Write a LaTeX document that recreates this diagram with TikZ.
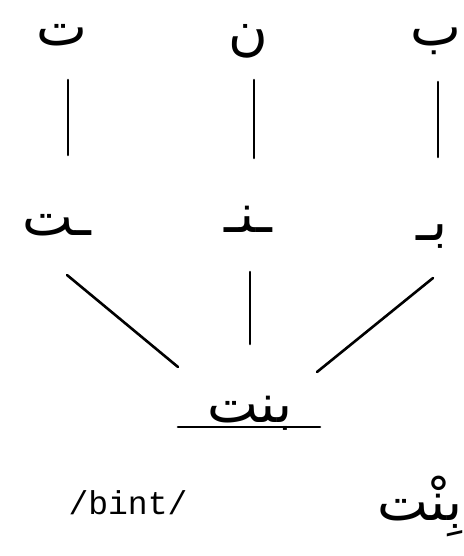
\documentclass[tikz,border=0pt]{standalone}
\usepackage{fontspec}
\setmonofont{Liberation Mono}
\newfontfamily\arabicfont[Script=Arabic]{DejaVu Sans}
\TeXXeTstate=1
\usetikzlibrary{calc}
\begin{document}
\begin{tikzpicture}[x=1pt,y=-1pt,
  ar/.style={inner sep=0pt,anchor=base,font=\arabicfont\fontsize{54}{62}\selectfont},
  conn/.style={line width=2.6pt,line cap=round}]
\useasboundingbox (0,0) rectangle (463,556);
% top row
\node[ar] (t1) at (62,46) {\beginR ت\endR};
\node[ar] (n1) at (248,50) {\beginR ن\endR};
\node[ar] (b1) at (436,46) {\beginR ب\endR};
% second row
\node[ar] (t2) at (57,235) {\beginR ـت\endR};
\node[ar] (n2) at (248,232) {\beginR ـنـ\endR};
\node[ar] (b2) at (432,240) {\beginR بـ\endR};
% combined
\node[ar] (w) at (250,422) {\beginR بنت\endR};
\node[inner sep=0pt,font=\ttfamily\fontsize{33}{38}\selectfont] (ipa) at (128,503) {/bint/};
\node[ar] (w2) at (420,520) {\beginR بِنْت\endR};
% connectors
\draw[conn] ($(t1.base)+(6,34)$) -- ($(t2.base)+(11,-80)$);
\draw[conn] ($(n1.base)+(6,30)$) -- ($(n2.base)+(6,-74)$);
\draw[conn] ($(b1.base)+(2,36)$) -- ($(b2.base)+(6,-83)$);
\draw[conn] ($(t2.base)+(10,40)$) -- ($(w.base)+(-72,-55)$);
\draw[conn] ($(n2.base)+(2,40)$) -- ($(w.base)+(0,-78)$);
\draw[conn] ($(b2.base)+(1,38)$) -- ($(w.base)+(67,-50)$);
\draw[conn] ($(w.base)+(-72,5)$) -- ($(w.base)+(70,5)$);
\end{tikzpicture}
\end{document}
